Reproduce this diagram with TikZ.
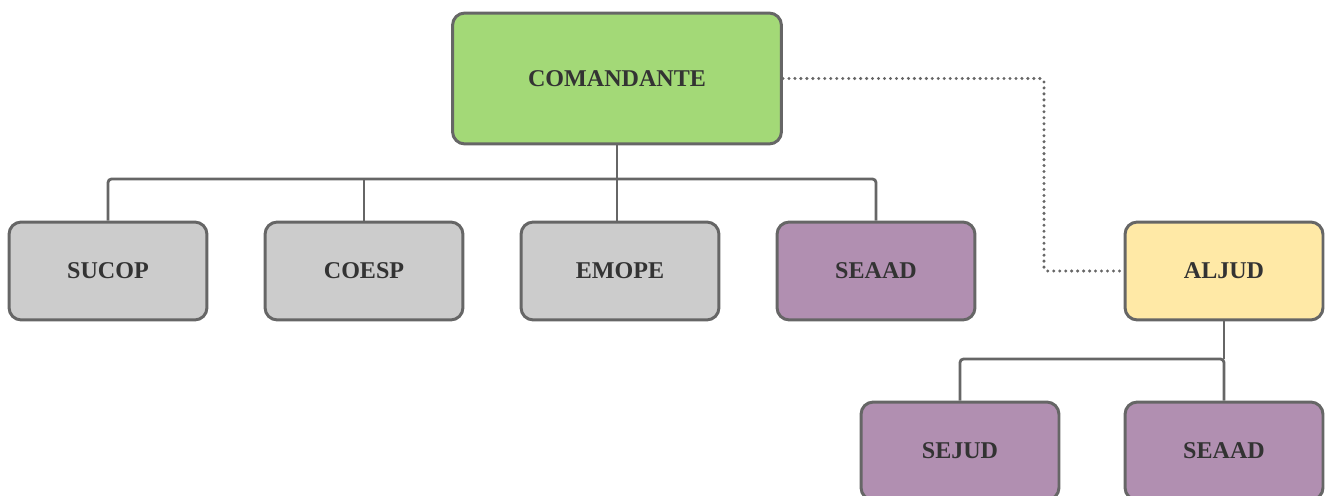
\documentclass[tikz,border=0pt]{standalone}
\usepackage{fontspec}
\setmainfont{Liberation Serif}
\usetikzlibrary{positioning}

\definecolor{edgegray}{HTML}{666666}
\definecolor{txtgray}{HTML}{333333}
\definecolor{cmdgreen}{HTML}{A3D977}
\definecolor{secgray}{HTML}{CCCCCC}
\definecolor{secpurple}{HTML}{B18FB1}
\definecolor{asyellow}{HTML}{FFE9A6}

\tikzset{
  unit/.style={draw=edgegray, line width=1.7pt, rounded corners=7pt,
    minimum width=3.96cm, minimum height=1.96cm, text=txtgray,
    font=\fontsize{13.7}{16}\selectfont\bfseries},
  link/.style={draw=edgegray, line width=1.6pt, rounded corners=2pt},
  advice/.style={draw=edgegray, line width=1.9pt, line cap=round,
    dash pattern=on 0pt off 3.4pt, rounded corners=2pt}
}

\begin{document}
\begin{tikzpicture}[x=0.02cm,y=-0.02cm]
\useasboundingbox (0,0) rectangle (1325,496);

\node[unit,fill=cmdgreen,minimum width=6.58cm,minimum height=2.62cm] (cmd) at (617,78.5) {COMANDANTE};

\node[unit,fill=secgray]   (sucop)  at (108,271) {SUCOP};
\node[unit,fill=secgray]   (coesp)  at (364,271) {COESP};
\node[unit,fill=secgray]   (emope)  at (620,271) {EMOPE};
\node[unit,fill=secpurple] (seaadA) at (876,271) {SEAAD};

\node[unit,fill=asyellow]  (aljud)  at (1224,271) {ALJUD};
\node[unit,fill=secpurple] (sejud)  at (960,451) {SEJUD};
\node[unit,fill=secpurple] (seaadB) at (1224,451) {SEAAD};

% command bus
\coordinate (busA) at (617,179);
\draw[link] (cmd.south) -- (busA);
\draw[link] (sucop.north) |- (busA) -| (seaadA.north);
\draw[link] (coesp.north) -- (coesp.north |- busA);
\draw[link] (busA) -- (busA |- emope.north);

% advisory link
\coordinate (bend) at (1044,78.5);
\draw[advice] (cmd.east) -- (bend) |- (aljud.west);

% legal sections
\coordinate (busB) at (1224,359);
\draw[link] (aljud.south) -- (busB);
\draw[link] (seaadB.north) -- (busB) -| (sejud.north);
\end{tikzpicture}
\end{document}
